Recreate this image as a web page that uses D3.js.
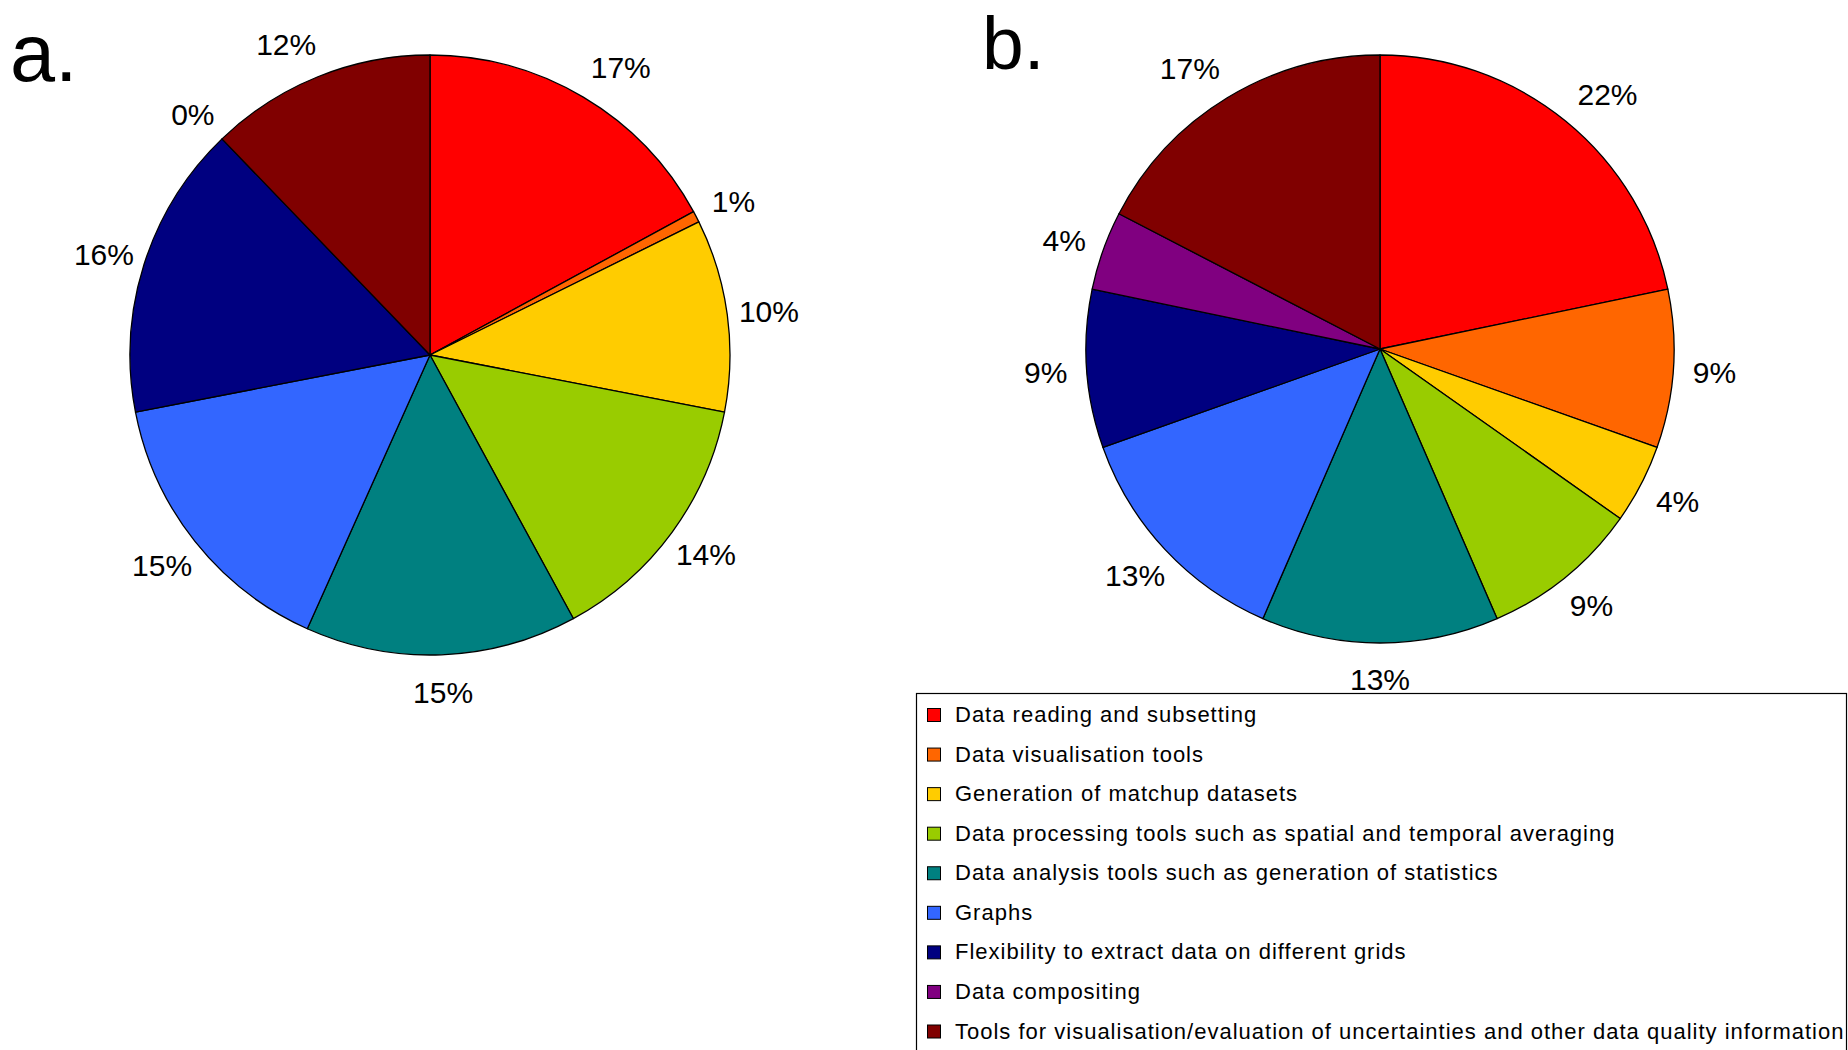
<!DOCTYPE html>
<html>
<head>
<meta charset="utf-8">
<script src="https://cdn.jsdelivr.net/npm/d3@7"></script>
<style>
  html, body { margin: 0; padding: 0; background: #ffffff; }
  svg { display: block; font-family: "Liberation Sans", Arial, Helvetica, sans-serif; }
</style>
</head>
<body>
<svg id="chart" width="1848" height="1050"></svg>
<script>
// Survey categories (shared by both pies and the legend)
const categories = [
  "Data reading and subsetting",
  "Data visualisation tools",
  "Generation of matchup datasets",
  "Data processing tools such as spatial and temporal averaging",
  "Data analysis tools such as generation of statistics",
  "Graphs",
  "Flexibility to extract data on different grids",
  "Data compositing",
  "Tools for visualisation/evaluation of uncertainties and other data quality information"
];

// Response counts per category
const countsA = [28, 1, 17, 23, 24, 25, 26, 0, 20];
const countsB = [5, 2, 1, 2, 3, 3, 2, 1, 4];

// Slice colours, one per category
const colors = ["#ff0000", "#ff6600", "#ffcc00", "#99cc00", "#008080",
                "#3366ff", "#000080", "#800080", "#800000"];

// Panel letters
const panelLabels = ["a.", "b."];

const svg = d3.select("#chart");

const color = d3.scaleOrdinal().domain(categories).range(colors);

const pie = d3.pie()
  .value(d => d.value)
  .sort(null)
  .startAngle(0)
  .endAngle(2 * Math.PI);

// Legend (drawn first so the pie labels sit on top)
const legend = svg.append("g").attr("class", "legend");
legend.append("rect")
  .attr("x", 916.5).attr("y", 693.5)
  .attr("width", 930).attr("height", 400)
  .attr("fill", "none")
  .attr("stroke", "#000")
  .attr("stroke-width", 1.2);

const rowY = d3.scalePoint().domain(categories).range([715, 1031.5]);

const rows = legend.selectAll("g.row")
  .data(categories)
  .join("g")
  .attr("class", "row")
  .attr("transform", d => `translate(0,${rowY(d)})`);

rows.append("rect")
  .attr("x", 927.5).attr("y", -6.5)
  .attr("width", 13).attr("height", 13)
  .attr("fill", d => color(d))
  .attr("stroke", "#000")
  .attr("stroke-width", 1);

rows.append("text")
  .attr("x", 955)
  .attr("y", 7)
  .attr("font-size", 22)
  .attr("letter-spacing", 1.0)
  .attr("fill", "#000")
  .text(d => d);

function drawPie(values, cx, cy, r) {
  const total = d3.sum(values);
  const data = categories.map((c, i) => ({ cat: c, value: values[i] }));
  const arcs = pie(data);
  const arc = d3.arc().innerRadius(0).outerRadius(r);

  const g = svg.append("g").attr("transform", `translate(${cx},${cy})`);

  g.selectAll("path.slice")
    .data(arcs.filter(d => d.data.value > 0))
    .join("path")
    .attr("class", "slice")
    .attr("d", arc)
    .attr("fill", d => color(d.data.cat))
    .attr("stroke", "#000")
    .attr("stroke-width", 1.3)
    .attr("stroke-linejoin", "round");

  // Percentage labels on a slightly flattened ring outside the pie;
  // labels near the top are nudged sideways away from the vertical axis.
  const labelPos = d => {
    const a = (d.startAngle + d.endAngle) / 2;
    const s = Math.sin(a), c = Math.cos(a);
    const nudge = c > 0.75 ? Math.sign(s) * 16 : 0;
    return [s * r * 1.14 + nudge, -c * r * 1.12 + 1];
  };

  g.selectAll("text.pct")
    .data(arcs)
    .join("text")
    .attr("class", "pct")
    .attr("transform", d => `translate(${labelPos(d)})`)
    .attr("text-anchor", "middle")
    .attr("dy", "0.36em")
    .attr("font-size", 30)
    .attr("fill", "#000")
    .text(d => Math.round(d.data.value / total * 100) + "%");
}

drawPie(countsA, 430, 355, 300);
drawPie(countsB, 1380, 349, 294);

// Panel letters
svg.append("text").attr("x", 10).attr("y", 81)
  .attr("font-size", 81).text(panelLabels[0]);
svg.append("text").attr("x", 982).attr("y", 69)
  .attr("font-size", 75).text(panelLabels[1]);
</script>
</body>
</html>
